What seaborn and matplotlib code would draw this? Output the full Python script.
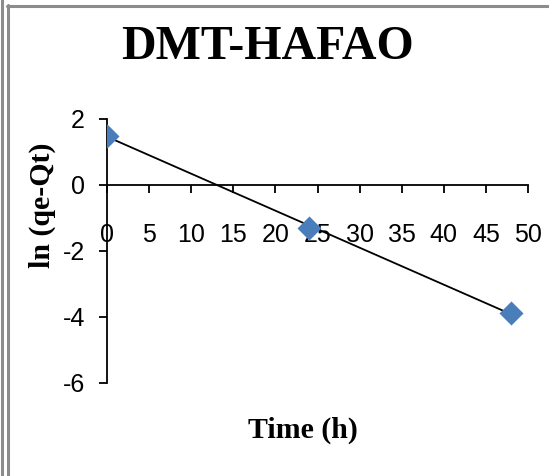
import numpy as np
import pandas as pd
import seaborn as sns
import matplotlib
matplotlib.use("Agg")
import matplotlib.pyplot as plt
from matplotlib.lines import Line2D

# ---- data ----
time_h = [0, 24, 48]
ln_qe_qt = [1.5, -1.3, -3.88]
x_ticks = [0, 5, 10, 15, 20, 25, 30, 35, 40, 45, 50]
y_ticks = [-6, -4, -2, 0, 2]
title = "DMT-HAFAO"
x_label = "Time (h)"
y_label = "ln (qe-Qt)"

df = pd.DataFrame({"t": time_h, "y": ln_qe_qt})

sns.set_style("white")
plt.rcParams["font.family"] = ["Liberation Sans", "DejaVu Sans"]
plt.rcParams["text.color"] = "black"

W, H = 549, 476
fig = plt.figure(figsize=(W / 100, H / 100), dpi=100)
ax = fig.add_axes([107 / W, 1 - 383 / H, (528 - 107) / W, (383 - 119) / H])

sns.regplot(data=df, x="t", y="y", ci=None, ax=ax, marker="D",
            scatter_kws={"s": 150, "color": "#4A7EBB", "zorder": 3, "linewidths": 0,
                         "alpha": 1},
            line_kws={"color": "black", "lw": 1.3, "zorder": 2})

ax.set_xlim(0, 50)
ax.set_ylim(-6, 2)
ax.set_xticks(x_ticks)
ax.set_yticks(y_ticks)
ax.set_xticklabels([str(v) for v in x_ticks])
ax.set_yticklabels([str(v) for v in y_ticks])

for s in ["top", "right"]:
    ax.spines[s].set_visible(False)
ax.spines["bottom"].set_position(("data", 0))
for s in ["left", "bottom"]:
    ax.spines[s].set_color("black")
    ax.spines[s].set_linewidth(1.3)

ax.tick_params(axis="both", which="major", direction="out", length=6, width=1.3,
               color="black", labelsize=18, labelcolor="black")
ax.tick_params(axis="x", pad=21, bottom=True)
ax.tick_params(axis="y", pad=10, left=True)

ax.set_xlabel("")
ax.set_ylabel("")

serif = ["Liberation Serif", "DejaVu Serif"]
fig.text(268 / W, 1 - 47 / H, title, ha="center", va="center", color="black",
         fontsize=34.5, fontweight="bold", family=serif)
fig.text(303 / W, 1 - 430 / H, x_label, ha="center", va="center", color="black",
         fontsize=21.5, fontweight="bold", family=serif)
fig.text(42 / W, 1 - 205 / H, y_label, ha="center", va="center", rotation=90,
         color="black", fontsize=21.5, fontweight="bold", family=serif)

# chart frame borders (Excel-like)
fig.add_artist(Line2D([1.5 / W, 1.5 / W], [0, 1], color="#8C8C8C", lw=2.2))
fig.add_artist(Line2D([8 / W, 8 / W], [0, 1 - 5 / H], color="#8C8C8C", lw=2.2))
fig.add_artist(Line2D([7 / W, 1], [1 - 6 / H, 1 - 6 / H], color="#8C8C8C", lw=2.2))

fig.savefig("out.png", dpi=100, facecolor="white")
